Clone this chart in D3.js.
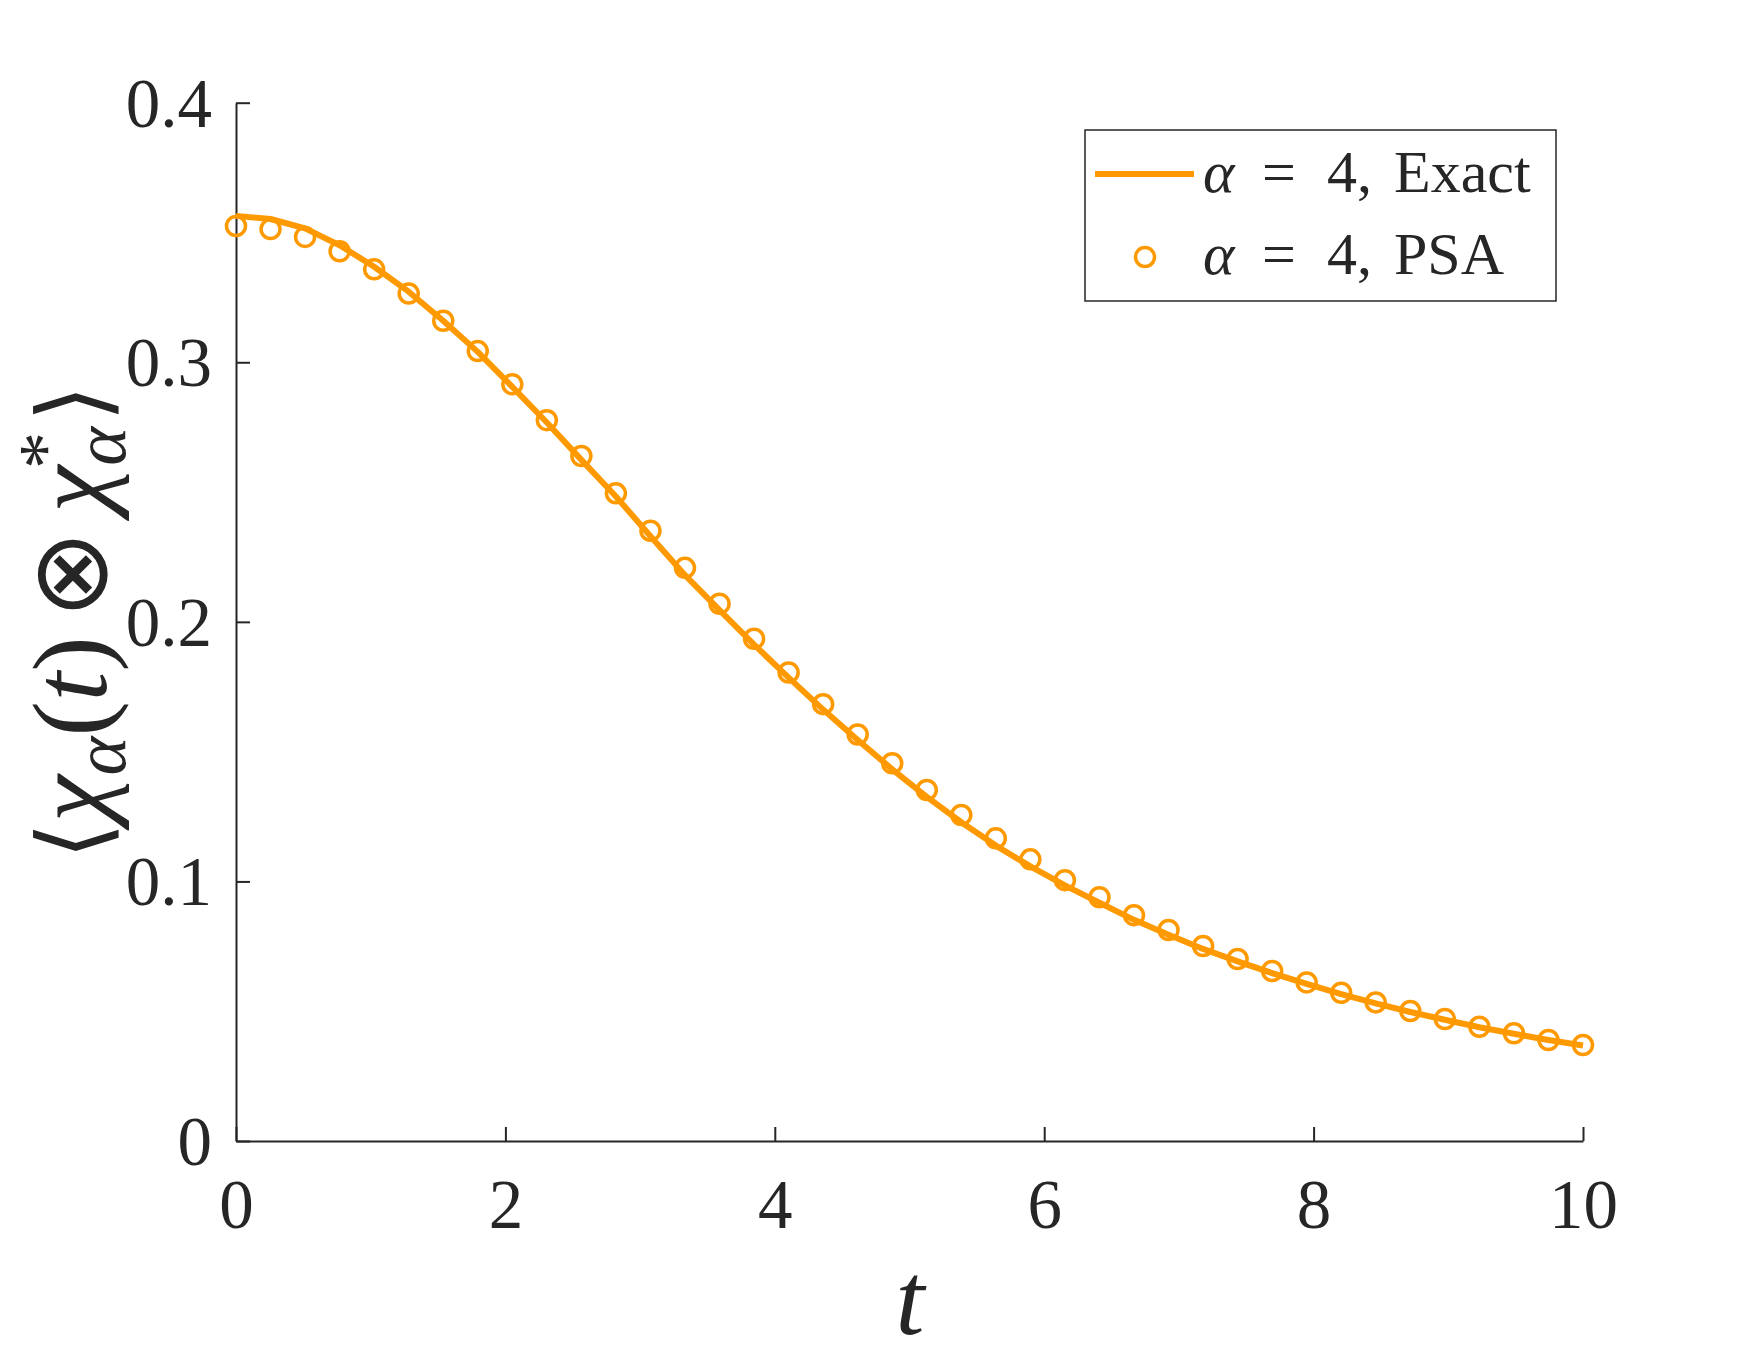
<!DOCTYPE html>
<html>
<head>
<meta charset="utf-8">
<script src="https://cdn.jsdelivr.net/npm/d3@7"></script>
<style>
  html, body { margin: 0; padding: 0; background: #fff; }
  svg { display: block; }
</style>
</head>
<body>
<svg id="chart" width="1750" height="1372"></svg>
<script>
// ---- data ----
const tValues = [0, 0.2564, 0.5128, 0.7692, 1.0256, 1.2821, 1.5385, 1.7949, 2.0513, 2.3077,
  2.5641, 2.8205, 3.0769, 3.3333, 3.5897, 3.8462, 4.1026, 4.3590, 4.6154, 4.8718,
  5.1282, 5.3846, 5.6410, 5.8974, 6.1538, 6.4103, 6.6667, 6.9231, 7.1795, 7.4359,
  7.6923, 7.9487, 8.2051, 8.4615, 8.7179, 8.9744, 9.2308, 9.4872, 9.7436, 10];
const exactValues = [0.3564, 0.3552, 0.3516, 0.3451, 0.3368, 0.3272, 0.3160, 0.3040, 0.2905, 0.2768,
  0.2624, 0.2483, 0.2330, 0.2180, 0.2045, 0.1912, 0.1785, 0.1662, 0.1545, 0.1432,
  0.1326, 0.1228, 0.1138, 0.1058, 0.0985, 0.0918, 0.0852, 0.0795, 0.0740, 0.0692,
  0.0647, 0.0605, 0.0566, 0.0530, 0.0497, 0.0467, 0.0438, 0.0413, 0.0389, 0.0368];
const psaValues = [0.3525, 0.3513, 0.3483, 0.3428, 0.3358, 0.3265, 0.3160, 0.3043, 0.2915, 0.2777,
  0.2639, 0.2495, 0.2351, 0.2208, 0.2070, 0.1935, 0.1805, 0.1683, 0.1566, 0.1455,
  0.1352, 0.1256, 0.1166, 0.1085, 0.1005, 0.0939, 0.0870, 0.0813, 0.0751, 0.0701,
  0.0655, 0.0611, 0.0571, 0.0534, 0.0501, 0.0470, 0.0440, 0.0415, 0.0389, 0.0370];
const xTicks = [0, 2, 4, 6, 8, 10];
const yTicks = [0, 0.1, 0.2, 0.3, 0.4];
const xTickLabels = ["0", "2", "4", "6", "8", "10"];
const yTickLabels = ["0", "0.1", "0.2", "0.3", "0.4"];
const legendLabels = ["Exact", "PSA"];

// ---- layout ----
const ORANGE = "#FF9900";
const INK = "#262626";
const FONT = "'Liberation Serif', 'DejaVu Serif', serif";
const svg = d3.select("#chart");
const x = d3.scaleLinear().domain([0, 10]).range([236, 1583]);
const y = d3.scaleLinear().domain([0, 0.4]).range([1141, 102.7]);

// axes
const xAxis = d3.axisBottom(x).tickValues(xTicks).tickSizeInner(-14).tickSizeOuter(0)
  .tickPadding(36).tickFormat((d, i) => xTickLabels[i]);
const yAxis = d3.axisLeft(y).tickValues(yTicks).tickSizeInner(-14).tickSizeOuter(0)
  .tickPadding(36).tickFormat((d, i) => yTickLabels[i]);

const gx = svg.append("g").attr("transform", `translate(0,${y(0)})`).call(xAxis);
const gy = svg.append("g").attr("transform", `translate(${x(0)},0)`).call(yAxis);
[gx, gy].forEach(g => {
  g.select(".domain").attr("stroke", INK).attr("stroke-width", 2);
  g.selectAll(".tick line").attr("stroke", INK).attr("stroke-width", 2);
  g.selectAll(".tick text").attr("fill", INK).attr("font-family", FONT).attr("font-size", 69);
});
gx.selectAll(".tick text").attr("dy", "0.71em").attr("y", 38);
gy.selectAll(".tick text").attr("x", -24).attr("dy", "0.34em");

// exact line
const line = d3.line().x((d, i) => x(tValues[i])).y(d => y(d));
svg.append("path").datum(exactValues)
  .attr("d", line).attr("fill", "none").attr("stroke", ORANGE)
  .attr("stroke-width", 6).attr("stroke-linejoin", "round");

// PSA markers
svg.append("g").selectAll("circle").data(psaValues).join("circle")
  .attr("cx", (d, i) => x(tValues[i])).attr("cy", d => y(d))
  .attr("r", 9.5).attr("fill", "none").attr("stroke", ORANGE).attr("stroke-width", 3.5);

// x label
svg.append("text").attr("x", 910).attr("y", 1334).attr("text-anchor", "middle")
  .attr("font-family", FONT).attr("font-style", "italic").attr("font-size", 104)
  .attr("fill", INK).text("t");

// y label
const yl = svg.append("text")
  .attr("transform", "translate(106,622) rotate(-90)")
  .attr("text-anchor", "middle")
  .attr("font-family", FONT).attr("font-size", 106).attr("fill", INK)
  .attr("xml:space", "preserve");
yl.append("tspan").attr("font-family", "'DejaVu Serif', serif").attr("font-size", 96).text("\u27E8");
yl.append("tspan").attr("font-style", "italic").text("\u03C7");
yl.append("tspan").attr("font-style", "italic").attr("font-size", 74).attr("dy", 19).text("\u03B1");
yl.append("tspan").attr("dy", -19).text("(");
yl.append("tspan").attr("font-style", "italic").text("t");
yl.append("tspan").text(")\u2006");
yl.append("tspan").attr("font-family", "'DejaVu Sans ExtraLight', 'DejaVu Sans', sans-serif").text("\u2297");
yl.append("tspan").attr("font-style", "italic").text("\u2006\u03C7");
yl.append("tspan").attr("font-style", "italic").attr("font-size", 74).attr("dy", 19).text("\u03B1");
yl.append("tspan").attr("font-size", 74).attr("dx", -42).attr("dy", -55).text("*");
yl.append("tspan").attr("dy", 36).attr("dx", 10).attr("font-family", "'DejaVu Serif', serif").attr("font-size", 96).text("\u27E9");

// legend
const lg = svg.append("g");
lg.append("rect").attr("x", 1085).attr("y", 130).attr("width", 471).attr("height", 171)
  .attr("fill", "#fff").attr("stroke", INK).attr("stroke-width", 1.5);
lg.append("line").attr("x1", 1095).attr("x2", 1194).attr("y1", 174).attr("y2", 174)
  .attr("stroke", ORANGE).attr("stroke-width", 6);
lg.append("circle").attr("cx", 1145).attr("cy", 257).attr("r", 9.5)
  .attr("fill", "none").attr("stroke", ORANGE).attr("stroke-width", 3.5);
legendLabels.forEach((lab, i) => {
  const by = 192 + i * 82;
  const g = lg.append("text").attr("y", by)
    .attr("font-family", FONT).attr("font-size", 60).attr("fill", INK);
  g.append("tspan").attr("x", 1203).attr("font-style", "italic").text("\u03B1");
  g.append("tspan").attr("x", 1262).text("=");
  g.append("tspan").attr("x", 1327).text("4,");
  g.append("tspan").attr("x", 1394).text(lab);
});
</script>
</body>
</html>
